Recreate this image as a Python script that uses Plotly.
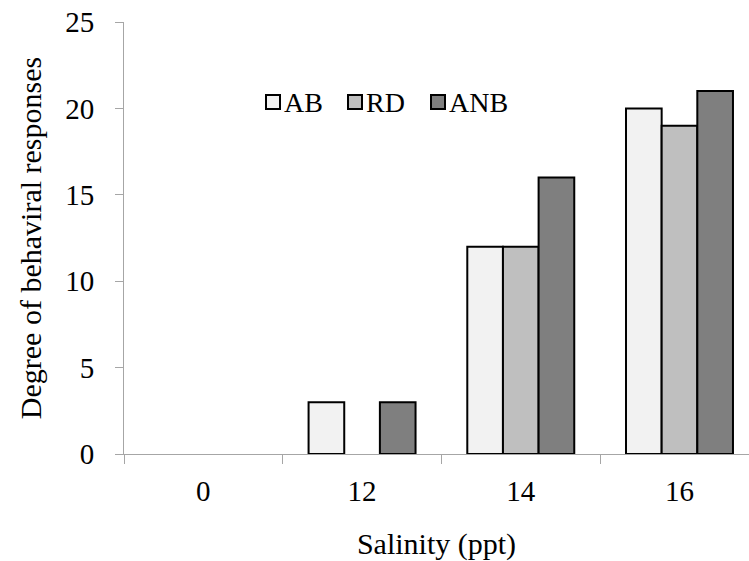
import plotly.graph_objects as go

categories = ["0", "12", "14", "16"]
series_names = ["AB", "RD", "ANB"]
ab_values = [0, 3, 12, 20]
rd_values = [0, 0, 12, 19]
anb_values = [0, 3, 16, 21]
colors = ["#f2f2f2", "#bfbfbf", "#7f7f7f"]
y_ticks = [0, 5, 10, 15, 20, 25]

FONT = "Liberation Serif"

fig = go.Figure()
for name, vals, col in zip(series_names, [ab_values, rd_values, anb_values], colors):
    fig.add_trace(go.Bar(
        name=name, x=categories, y=vals,
        marker=dict(color=col,
                    line=dict(color="black", width=[2 if v > 0 else 0 for v in vals])),
        showlegend=False,
    ))

# manual legend (plot-area paper coordinates)
L, T, W, H = 124, 22, 625, 432
def px(xp):
    return (xp - L) / W
def py(yp):
    return (T + H - yp) / H

legend_x = [266, 348, 431]
legend_y = 102
for name, col, lx in zip(series_names, colors, legend_x):
    fig.add_shape(type="rect", xref="paper", yref="paper",
                  x0=px(lx), x1=px(lx + 14), y0=py(legend_y + 7), y1=py(legend_y - 7),
                  fillcolor=col, line=dict(color="black", width=2))
    fig.add_annotation(text=name, xref="paper", yref="paper",
                       x=px(lx + 16), y=py(legend_y), xanchor="left", yanchor="middle",
                       showarrow=False, font=dict(family=FONT, size=28, color="black"))

fig.update_layout(
    width=749, height=561,
    margin=dict(l=L, r=0, t=T, b=561 - T - H),
    paper_bgcolor="white", plot_bgcolor="white",
    barmode="group", bargap=0.326, bargroupgap=0,
    font=dict(family=FONT, size=28, color="black"),
    showlegend=False,
)
fig.update_xaxes(
    type="category", range=[-0.5, 3.438], automargin=False,
    showline=True, linecolor="#a6a6a6", linewidth=1,
    ticks="outside", tickson="boundaries", ticklen=9, tickcolor="#a6a6a6",
    tickfont=dict(size=29), showgrid=False, ticklabelstandoff=11,
    title=dict(text="Salinity (ppt)", font=dict(size=30), standoff=28),
)
fig.update_yaxes(
    range=[0, 25], tickvals=y_ticks, automargin=False,
    showline=True, linecolor="#a6a6a6", linewidth=1,
    ticks="outside", ticklen=8, tickcolor="#a6a6a6",
    tickfont=dict(size=29), showgrid=False, zeroline=False, ticklabelstandoff=15,
    title=dict(text="Degree of behaviral responses", font=dict(size=30), standoff=14),
)

fig.write_html("out.html", config={"displayModeBar": False},
               post_script="document.body.style.margin='0';")
